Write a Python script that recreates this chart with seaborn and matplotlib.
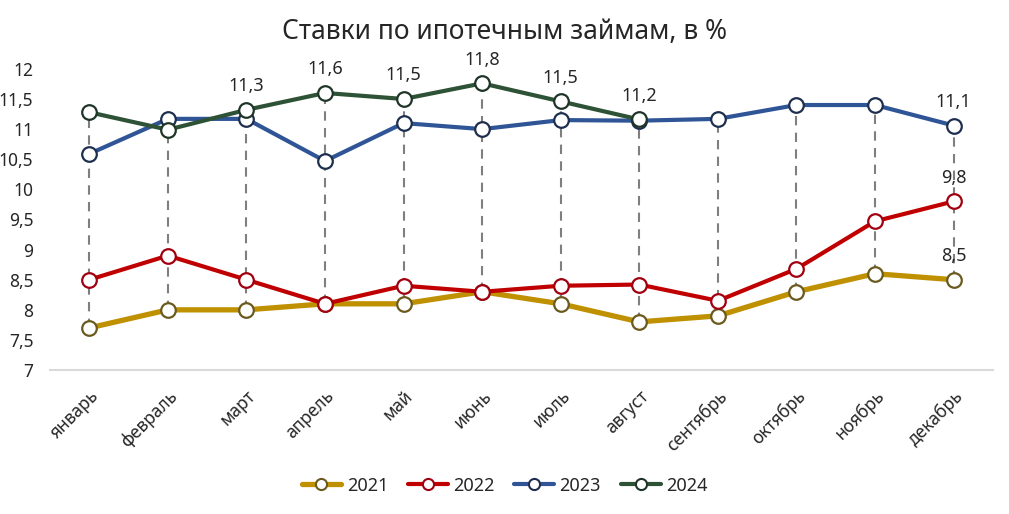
import numpy as np
import pandas as pd
import matplotlib
matplotlib.use("Agg")
import matplotlib.pyplot as plt
import seaborn as sns
from matplotlib.lines import Line2D

months = ["январь", "февраль", "март", "апрель", "май", "июнь",
          "июль", "август", "сентябрь", "октябрь", "ноябрь", "декабрь"]
rates_2021 = [7.7, 8.0, 8.0, 8.1, 8.1, 8.3, 8.1, 7.8, 7.9, 8.3, 8.6, 8.5]
rates_2022 = [8.5, 8.9, 8.5, 8.1, 8.4, 8.3, 8.4, 8.42, 8.15, 8.68, 9.47, 9.8]
rates_2023 = [10.59, 11.17, 11.17, 10.47, 11.1, 11.0, 11.15, 11.14, 11.17, 11.4, 11.4, 11.06]
rates_2024 = [11.28, 10.99, 11.32, 11.6, 11.5, 11.76, 11.46, 11.16]
years = ["2021", "2022", "2023", "2024"]
y_ticks = [7, 7.5, 8, 8.5, 9, 9.5, 10, 10.5, 11, 11.5, 12]
title = "Ставки по ипотечным займам, в %"

series = {"2021": rates_2021, "2022": rates_2022, "2023": rates_2023, "2024": rates_2024}
colors = {"2021": "#BF9000", "2022": "#C00000", "2023": "#2F5597", "2024": "#2E5236"}
edges = {"2021": "#6B5A1E", "2022": "#A00010", "2023": "#1E2E4E", "2024": "#1E3528"}
widths = {"2021": 3.8, "2022": 3.0, "2023": 3.0, "2024": 3.0}
# which points carry data labels: (year, month index)
labelled = [("2024", i) for i in range(2, 8)] + [("2023", 11), ("2022", 11), ("2021", 11)]

sns.set_theme(style="white")
plt.rcParams["font.family"] = ["Noto Sans", "DejaVu Sans"]

fig = plt.figure(figsize=(10.09, 5.14), dpi=100)
ax = fig.add_axes([0.0496, 0.280, 0.9344, 0.586])

rows = []
for y in years:
    for m, v in zip(months, series[y]):
        rows.append({"month": m, "rate": v, "year": y})
df = pd.DataFrame(rows)

# high-low dashed lines
agg = df.groupby("month", sort=False)["rate"].agg(["min", "max"]).reindex(months)
ax.vlines(np.arange(len(months)), agg["min"], agg["max"], colors="#7F7F7F",
          linestyles=(0, (4.5, 3.5)), linewidth=1.5, zorder=1)

for y in years:
    sub = df[df["year"] == y]
    sns.lineplot(data=sub, x="month", y="rate", ax=ax, color=colors[y],
                 linewidth=widths[y], marker="o", markersize=10.5,
                 markerfacecolor="white", markeredgecolor=edges[y],
                 markeredgewidth=1.6, sort=False, zorder=3, legend=False)

for y, i in labelled:
    v = series[y][i]
    ax.annotate(f"{v:.1f}".replace(".", ","), (i, v), xytext=(0, 17),
                textcoords="offset points", ha="center", va="center",
                fontsize=13, color="#262626", zorder=2, annotation_clip=False)

ax.set_xlim(-0.5, len(months) - 0.5)
ax.set_ylim(7, 12)
ax.set_yticks(y_ticks)
ax.set_yticklabels([f"{t:g}".replace(".", ",") for t in y_ticks])
ax.set_xticks(range(len(months)))
ax.set_xticklabels(months, rotation=45, ha="right", rotation_mode="anchor")
ax.tick_params(axis="y", length=0, pad=12, labelsize=12.5, labelcolor="#262626")
ax.tick_params(axis="x", length=0, pad=12, labelsize=12.5, labelcolor="#262626")
ax.set_xlabel("")
ax.set_ylabel("")
for s in ["top", "right", "left"]:
    ax.spines[s].set_visible(False)
ax.spines["bottom"].set_color("#D9D9D9")
ax.spines["bottom"].set_linewidth(1.5)
ax.grid(False)

fig.text(0.5, 0.937, title, ha="center", va="center", fontsize=19, color="#262626")

handles = [Line2D([0], [0], color=colors[y], linewidth=widths[y], marker="o",
                  markersize=8, markerfacecolor="white", markeredgecolor=edges[y],
                  markeredgewidth=1.5) for y in years]
fig.legend(handles, years, loc="center", bbox_to_anchor=(0.5, 0.055), ncol=4,
           frameon=False, fontsize=13, handlelength=2.2, handletextpad=0.3,
           columnspacing=1.1, labelcolor="#262626")

fig.savefig("out.png", dpi=100)
